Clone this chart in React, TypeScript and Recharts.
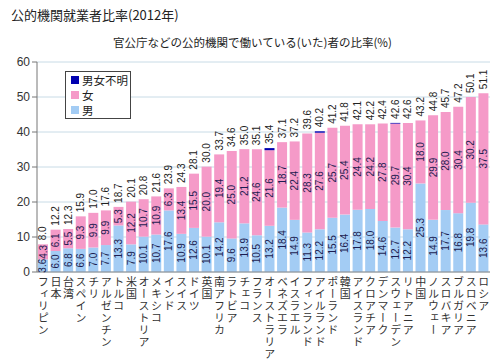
import React from 'react';
import { BarChart, Bar, XAxis, YAxis, CartesianGrid, LabelList } from 'recharts';

const countries = [
  'フィリピン', '日本', '台湾', 'スペイン', 'チリ', 'アルゼンチン', 'トルコ', '米国', 'オーストリア', 'メキシコ',
  'インド', 'スイス', 'ドイツ', '英国', '南アフリカ', 'ラトビア', 'チェコ', 'フランス', 'オーストラリア', 'ベネズエラ',
  'イスラエル', 'フィンランド', 'アイルランド', 'ポーランド', '韓国', 'アイスランド', 'クロアチア', 'デンマーク', 'スウェーデン', 'リトアニア',
  '中国', 'ノルウェー', 'スロバキア', 'ブルガリア', 'スロベニア', 'ロシア',
];
const male = [
  3.6, 6.0, 6.8, 6.6, 7.0, 7.7, 13.3, 7.9, 10.1, 10.7,
  17.6, 10.9, 12.6, 10.1, 14.2, 9.6, 13.9, 10.5, 13.2, 18.4,
  14.9, 11.3, 12.2, 15.5, 16.4, 17.8, 18.0, 14.6, 12.7, 12.2,
  25.3, 14.9, 17.7, 16.8, 19.8, 13.6,
];
const female = [
  4.3, 6.1, 5.5, 9.3, 9.9, 9.9, 5.3, 12.2, 10.7, 10.9,
  6.3, 13.4, 15.5, 20.0, 19.4, 25.0, 21.2, 24.6, 21.6, 18.7,
  22.4, 28.3, 27.6, 25.7, 25.4, 24.4, 24.2, 27.8, 29.7, 30.4,
  18.0, 29.9, 28.0, 30.4, 30.2, 37.5,
];
const unknown = [
  0, 0, 0, 0, 0, 0, 0, 0, 0, 0,
  0, 0, 0, 0, 0, 0, 0, 0, 0.6, 0,
  0, 0, 0.4, 0, 0, 0, 0, 0, 0.2, 0,
  0, 0, 0, 0, 0, 0,
];
const totals = [
  8.0, 12.2, 12.3, 15.9, 17.0, 17.6, 18.7, 20.1, 20.8, 21.6,
  23.9, 24.3, 28.1, 30.0, 33.7, 34.6, 35.0, 35.1, 35.4, 37.1,
  37.2, 39.6, 40.2, 41.2, 41.8, 42.1, 42.2, 42.4, 42.6, 42.6,
  43.2, 44.8, 45.7, 47.2, 50.1, 51.1,
];
const yTicks = [0, 10, 20, 30, 40, 50, 60];

const data = countries.map((name, i) => ({
  name,
  male: male[i],
  female: female[i],
  unknown: unknown[i],
  total: totals[i],
}));

const NUM_FONT = "'Liberation Sans', 'Noto Sans CJK JP', sans-serif";
const JP_FONT = "'Noto Sans CJK JP', 'Liberation Sans', sans-serif";
const PINK = '#F59AC8';
const BLUE = '#A3CCF4';
const DARK = '#0000B0';

const SegLabel = (props: any) => {
  const { x, y, width, height, value } = props;
  if (value == null || !height) return null;
  const cx = x + width / 2;
  const cy = y + height / 2;
  return (
    <text x={cx} y={cy} transform={`rotate(-90 ${cx} ${cy})`} textAnchor="middle"
      dominantBaseline="central" fontSize={10} fill="#1c1c50" fontFamily={NUM_FONT}>
      {Number(value).toFixed(1)}
    </text>
  );
};

const TotalLabel = (props: any) => {
  const { x, y, width, height, value, index } = props;
  const f = female[index];
  const px = f ? height / f : 0;
  const top = y - unknown[index] * px;
  const cx = x + width / 2;
  const ty = top - 4;
  return (
    <text x={cx} y={ty} transform={`rotate(-90 ${cx} ${ty})`} textAnchor="start"
      dominantBaseline="central" fontSize={10} fill="#222" fontFamily={NUM_FONT}>
      {Number(value).toFixed(1)}
    </text>
  );
};

const XTick = (props: any) => {
  const { x, y, payload } = props;
  const chars = Array.from(String(payload.value));
  return (
    <g>
      {chars.map((ch, i) => (
        <text key={i} x={x} y={y + 4.5 + i * 12} textAnchor="start" fontSize={11} fill="#333"
          fontFamily={JP_FONT} style={{ writingMode: 'vertical-rl' }}>
          {ch}
        </text>
      ))}
    </g>
  );
};

const legendItems = [
  { label: '男女不明', color: DARK },
  { label: '女', color: PINK },
  { label: '男', color: BLUE },
];

export default function App() {
  return (
    <div style={{ position: 'absolute', left: 0, top: 0, width: 500, height: 364, background: '#fff', overflow: 'hidden' }}>
      <div style={{ position: 'absolute', left: 11, top: 5, fontSize: 13, fontFamily: JP_FONT, color: '#222', whiteSpace: 'nowrap', lineHeight: '20px' }}>
        公的機関就業者比率(2012年)
      </div>
      <div style={{ position: 'absolute', left: 113, top: 33, fontSize: 11.5, fontFamily: JP_FONT, color: '#222', whiteSpace: 'nowrap', lineHeight: '18px' }}>
        官公庁などの公的機関で働いている(いた)者の比率(%)
      </div>
      <BarChart width={500} height={364} data={data}
        margin={{ top: 62, right: 10, bottom: 0, left: 7 }} barSize={10}>
        <CartesianGrid vertical={false} stroke="#c8dbe6" />
        <XAxis dataKey="name" interval={0} height={92} tickSize={0} tickMargin={0}
          tickLine={false} axisLine={{ stroke: '#888' }} tick={<XTick />} />
        <YAxis domain={[0, 60]} ticks={yTicks} width={30} tickSize={5}
          tickLine={{ stroke: '#777' }} axisLine={{ stroke: '#777' }}
          tick={{ fontSize: 12, fill: '#333', fontFamily: NUM_FONT }} />
        <Bar dataKey="male" stackId="a" fill={BLUE} isAnimationActive={false}>
          <LabelList dataKey="male" content={<SegLabel />} />
        </Bar>
        <Bar dataKey="female" stackId="a" fill={PINK} isAnimationActive={false}>
          <LabelList dataKey="female" content={<SegLabel />} />
          <LabelList dataKey="total" content={<TotalLabel />} />
        </Bar>
        <Bar dataKey="unknown" stackId="a" fill={DARK} isAnimationActive={false} />
      </BarChart>
      <div style={{ position: 'absolute', left: 65, top: 71, width: 64, height: 46, border: '1px solid #444', background: '#fff', fontFamily: JP_FONT, fontSize: 11.5, color: '#222' }}>
        {legendItems.map((it, i) => (
          <div key={i} style={{ position: 'absolute', left: 5, top: 1 + i * 15, height: 14, lineHeight: '14px', display: 'flex', alignItems: 'center', whiteSpace: 'nowrap' }}>
            <span style={{ display: 'inline-block', width: 8, height: 8, background: it.color, marginRight: 3 }} />
            <span style={{ lineHeight: '14px' }}>{it.label}</span>
          </div>
        ))}
      </div>
    </div>
  );
}
